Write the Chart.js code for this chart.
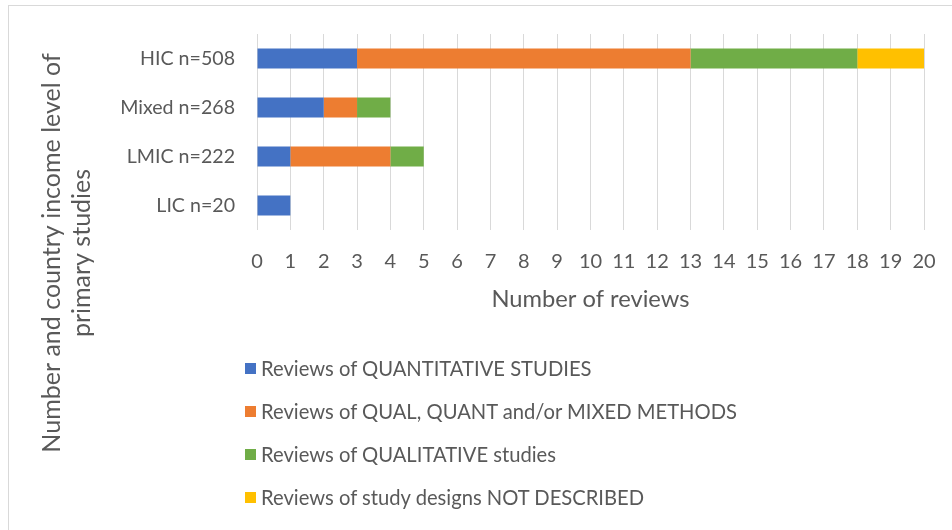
<!DOCTYPE html>
<html>
<head>
<meta charset="utf-8">
<script src="https://cdn.jsdelivr.net/npm/chart.js@4.4.1/dist/chart.umd.min.js"></script>
<style>
  html, body { margin: 0; padding: 0; background: #ffffff; }
  #wrap { position: relative; width: 952px; height: 530px; overflow: hidden; }
  #legend { position: absolute; left: 245px; top: 347px; font-family: 'Lato', sans-serif; font-size: 20.2px; color: #595959; }
  .li { height: 43px; line-height: 43px; white-space: nowrap; display: flex; align-items: center; }
  .sw { width: 11px; height: 11px; margin-right: 5px; flex: none; }
</style>
</head>
<body>
<div id="wrap">
  <canvas id="c" width="952" height="530"></canvas>
  <div id="legend"></div>
</div>
<script>
const categories = ['HIC n=508', 'Mixed n=268', 'LMIC n=222', 'LIC n=20'];
const seriesLabels = [
  'Reviews of QUANTITATIVE STUDIES',
  'Reviews of QUAL, QUANT and/or MIXED METHODS',
  'Reviews of QUALITATIVE studies',
  'Reviews of study designs NOT DESCRIBED'
];
const quantitative = [3, 2, 1, 1];
const mixedMethods = [10, 1, 3, 0];
const qualitative = [5, 1, 1, 0];
const notDescribed = [2, 0, 0, 0];
const xAxisTitle = 'Number of reviews';
const yAxisTitleLines = ['Number and country income level of', 'primary studies'];
const seriesColors = ['#4472C4', '#ED7D31', '#70AD47', '#FFC000'];

const FONT = 'Lato';
const TEXT = '#595959';

const frame = {
  id: 'frame',
  beforeDraw(chart) {
    const ctx = chart.ctx;
    ctx.save();
    ctx.fillStyle = '#ffffff';
    ctx.fillRect(0, 0, chart.width, chart.height);
    ctx.strokeStyle = '#d9d9d9';
    ctx.lineWidth = 1;
    ctx.strokeRect(8.5, 5.5, 1200, 1200);
    ctx.restore();
  }
};

const yTitle = {
  id: 'yTitle',
  afterDraw(chart) {
    const ctx = chart.ctx;
    ctx.save();
    ctx.fillStyle = TEXT;
    ctx.font = '25px ' + FONT;
    ctx.textAlign = 'center';
    ctx.textBaseline = 'alphabetic';
    ctx.translate(0, 253);
    ctx.rotate(-Math.PI / 2);
    const baselines = [60, 90];
    yAxisTitleLines.forEach((t, i) => ctx.fillText(t, 0, baselines[i]));
    ctx.restore();
  }
};

const datasets = [quantitative, mixedMethods, qualitative, notDescribed].map((d, i) => ({
  label: seriesLabels[i],
  data: d,
  backgroundColor: seriesColors[i],
  borderWidth: 0,
  categoryPercentage: 1,
  barPercentage: 0.41
}));

const chart = new Chart(document.getElementById('c'), {
  type: 'bar',
  data: { labels: categories, datasets },
  options: {
    indexAxis: 'y',
    responsive: false,
    animation: false,
    layout: { padding: { top: 34, right: 28, bottom: 210, left: 0 } },
    plugins: { legend: { display: false }, tooltip: { enabled: false } },
    scales: {
      x: {
        stacked: true, min: 0, max: 20,
        ticks: { stepSize: 1, color: TEXT, font: { family: FONT, size: 20 }, padding: 20, maxRotation: 0, autoSkip: false },
        grid: { color: '#d9d9d9', lineWidth: 1, drawTicks: false },
        border: { display: false },
        title: { display: true, text: xAxisTitle, color: TEXT, font: { family: FONT, size: 23.7 }, padding: { top: 0, bottom: 6 } },
        afterFit(s) { s.height = 90; s.paddingLeft = 0; s.paddingRight = 0; }
      },
      y: {
        stacked: true,
        ticks: { color: TEXT, font: { family: FONT, size: 19.6 }, padding: 14 },
        grid: { display: false },
        border: { display: false },
        afterFit(s) { s.width = 257; s.paddingTop = 0; s.paddingBottom = 0; }
      }
    }
  },
  plugins: [frame, yTitle]
});

const legend = document.getElementById('legend');
chart.data.datasets.forEach(ds => {
  const row = document.createElement('div');
  row.className = 'li';
  const sw = document.createElement('span');
  sw.className = 'sw';
  sw.style.background = ds.backgroundColor;
  const tx = document.createElement('span');
  tx.textContent = ds.label;
  row.appendChild(sw); row.appendChild(tx);
  legend.appendChild(row);
});
</script>
</body>
</html>
